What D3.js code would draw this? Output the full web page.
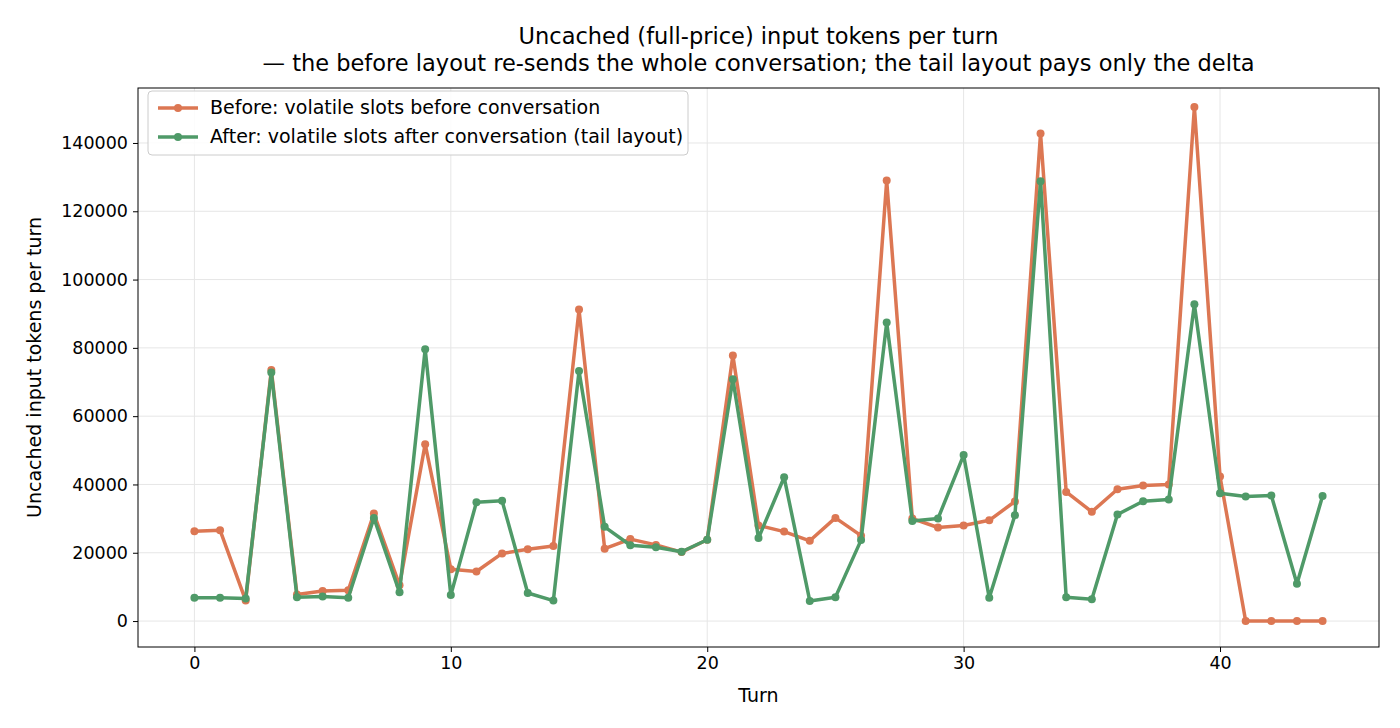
<!DOCTYPE html>
<html><head><meta charset="utf-8">
<script src="https://cdn.jsdelivr.net/npm/d3@7"></script>
<style>body{margin:0;background:#fff;font-family:"DejaVu Sans",sans-serif}</style>
</head><body><svg id="chart" width="1400" height="728"></svg>
<script>
const turns = d3.range(0, 45);
const beforeVals = [26300,26600,6000,73500,7800,8800,9000,31500,10500,51800,15200,14500,19800,21000,22000,91200,21200,24000,22300,20200,23800,77800,28000,26200,23500,30200,25000,129000,30000,27400,28000,29500,35000,142800,37800,32000,38600,39700,40000,150500,42300,0,0,0,0];
const afterVals = [6800,6800,6600,72800,7000,7200,6800,30200,8400,79600,7600,34800,35200,8200,6000,73200,27600,22200,21600,20300,23800,70800,24300,42100,5900,7000,23700,87400,29300,30000,48600,6800,31000,128800,7000,6400,31200,35100,35600,92800,37400,36500,36800,10900,36600];
const xTicks = [0,10,20,30,40];
const yTicks = [0,20000,40000,60000,80000,100000,120000,140000];
const series = [
  {name:"Before: volatile slots before conversation", values:beforeVals, color:"#dc7753"},
  {name:"After: volatile slots after conversation (tail layout)", values:afterVals, color:"#4f9a68"}
];

const svg = d3.select("#chart");
const L=138, R=1379, T=88, B=647;
const x = d3.scaleLinear().domain([-2.2,46.2]).range([L,R]);
const y = d3.scaleLinear().domain([-7600,156100]).range([B,T]);

// grid
svg.append("g").selectAll("line").data(xTicks).join("line")
  .attr("x1",d=>x(d)).attr("x2",d=>x(d)).attr("y1",T).attr("y2",B)
  .attr("stroke","#e6e6e6").attr("stroke-width",1);
svg.append("g").selectAll("line").data(yTicks).join("line")
  .attr("x1",L).attr("x2",R).attr("y1",d=>y(d)).attr("y2",d=>y(d))
  .attr("stroke","#e6e6e6").attr("stroke-width",1);

// axes
const xa = svg.append("g").attr("transform",`translate(0,${B})`)
  .call(d3.axisBottom(x).tickValues(xTicks).tickSize(5).tickPadding(5));
const ya = svg.append("g").attr("transform",`translate(${L},0)`)
  .call(d3.axisLeft(y).tickValues(yTicks).tickSize(5).tickPadding(5).tickFormat(d3.format("d")));
[xa,ya].forEach(a=>{a.selectAll("text").attr("font-size",17.5).attr("fill","#000").attr("font-family","DejaVu Sans");
  a.select(".domain").remove();});
svg.append("rect").attr("x",L).attr("y",T).attr("width",R-L).attr("height",B-T)
  .attr("fill","none").attr("stroke","#000").attr("stroke-width",1);

// lines
const line = d3.line().x((d,i)=>x(turns[i])).y(d=>y(d));
series.forEach(s=>{
  const g=svg.append("g");
  g.append("path").datum(s.values).attr("d",line).attr("fill","none")
    .attr("stroke",s.color).attr("stroke-width",3.5).attr("stroke-linejoin","round");
  g.selectAll("circle").data(s.values).join("circle")
    .attr("cx",(d,i)=>x(turns[i])).attr("cy",d=>y(d)).attr("r",4).attr("fill",s.color);
});

// titles
svg.append("text").attr("x",(L+R)/2).attr("y",44).attr("text-anchor","middle").attr("font-size",22.5)
  .text("Uncached (full-price) input tokens per turn");
svg.append("text").attr("x",(L+R)/2).attr("y",71).attr("text-anchor","middle").attr("font-size",22.5)
  .text("— the before layout re-sends the whole conversation; the tail layout pays only the delta");
svg.append("text").attr("x",(L+R)/2).attr("y",702).attr("text-anchor","middle").attr("font-size",19).text("Turn");
svg.append("text").attr("transform",`translate(41,${(T+B)/2}) rotate(-90)`).attr("text-anchor","middle")
  .attr("font-size",19).text("Uncached input tokens per turn");

// legend
const lg = svg.append("g");
lg.append("rect").attr("x",148).attr("y",91).attr("width",540).attr("height",64).attr("rx",4)
  .attr("fill","#fff").attr("fill-opacity",0.85).attr("stroke","#ccc");
series.forEach((s,i)=>{
  const yy=108+i*29;
  lg.append("line").attr("x1",158).attr("x2",198).attr("y1",yy).attr("y2",yy).attr("stroke",s.color).attr("stroke-width",3.5);
  lg.append("circle").attr("cx",178).attr("cy",yy).attr("r",4).attr("fill",s.color);
  lg.append("text").attr("x",210).attr("y",yy+6).attr("font-size",19).text(s.name);
});
</script></body></html>
